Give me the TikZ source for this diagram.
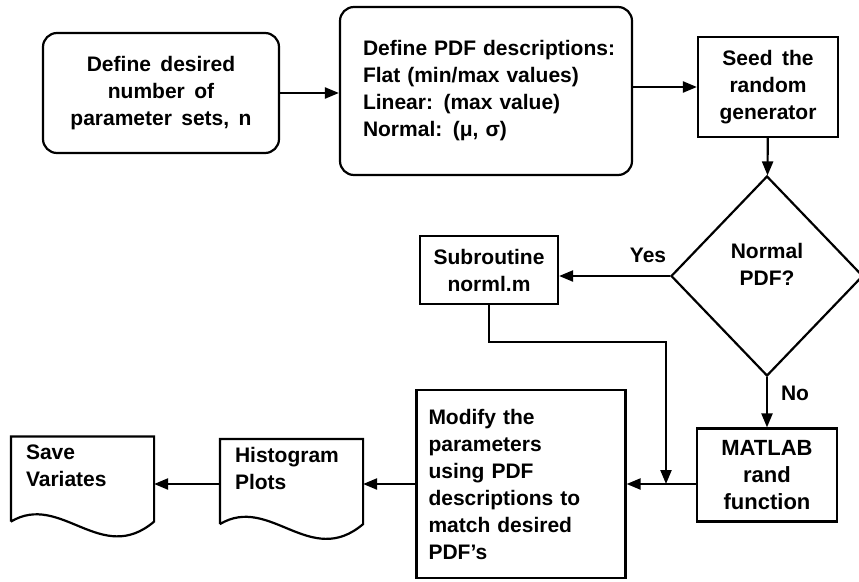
\documentclass[tikz,border=0pt]{standalone}
\usepackage{fontspec}
\setmainfont{Liberation Sans}
\usetikzlibrary{shapes,arrows,arrows.meta}
\newcommand\wideskip{\spaceskip=0.45em\relax}

\begin{document}
\begin{tikzpicture}[x=1pt,y=-1pt,line width=2.2pt,
  font=\fontsize{21}{27}\selectfont\bfseries\wideskip,
  rbox/.style={draw,rounded corners=14pt,align=center,inner sep=0pt},
  pbox/.style={draw,align=center,inner sep=0pt},
  decision/.style={draw,diamond,inner sep=0pt,minimum width=192pt,minimum height=200pt},
  docbox/.style={inner sep=0pt,minimum width=141pt,minimum height=83pt,align=left,anchor=center},
  >={Triangle[length=14pt,width=11pt]}]
\useasboundingbox (0,0) rectangle (859,581);
%-------->nodes<--------------
\node[rbox,minimum width=236pt,minimum height=120pt] (desired) at (161,93)
  {Define desired\\number of\\parameter sets, n}; % n
\node[rbox,minimum width=292pt,minimum height=168pt,text width=292pt,align=left] (pdfdesc) at (486,91)
  {\hspace*{23pt}\mbox{Define PDF descriptions:}\\\hspace*{23pt}Flat (min/max values)\\\hspace*{23pt}Linear: (max value)\\\hspace*{23pt}Normal: (μ, σ)\\[4pt]}; % pdf
\node[pbox,minimum width=140pt,minimum height=100pt] (seed) at (768,87)
  {Seed the\\random\\generator}; % seed
\node[decision] (normal) at (767,276) {}; % test
\node (normaltxt) at (767,267) {\begin{tabular}{c}Normal\\PDF?\end{tabular}};
\node[pbox,minimum width=138pt,minimum height=68pt] (subr) at (489,270)
  {Subroutine\\norml.m}; % yes
\node[pbox,minimum width=140pt,minimum height=93pt,font=\fontsize{22}{27}\selectfont\bfseries] (matlab) at (767,475)
  {MATLAB\\rand\\function}; % no
\node[pbox,minimum width=209pt,minimum height=188pt,text width=185pt,align=left] (modify) at (521,484)
  {Modify the\\parameters\\using PDF\\descriptions to\\match desired\\PDF's};
\node[docbox] (hist) at (291.5,481.5) {}; % plots
\node[docbox] (save) at (82.5,479) {}; % save
%------------->document shapes<------------------
\foreach \n in {hist,save}{
  \draw (\n.south west) -- (\n.north west) -- (\n.north east) -- (\n.south east)
    .. controls +(-53,45) and +(50,-30) .. (\n.south west);
}
\node[anchor=north west,align=left,inner sep=0pt] (histtxt) at ([xshift=14pt,yshift=-7pt]hist.north west) {Histogram\\Plots};
\node[anchor=north west,align=left,inner sep=0pt] (savetxt) at ([xshift=14pt,yshift=-7pt]save.north west) {Save\\Variates};
%----------------> connectors <------------------
\coordinate (bend) at (666,342);
\coordinate (join) at (666,484);
\draw[->] (desired) -- (pdfdesc.west |- desired);
\draw[->] (pdfdesc.east |- seed) -- (seed);
\draw[->] (seed) -- (normal);
\draw[->] (normal.west) -- (subr.east |- normal.west);
\draw[->] (normal) -- (matlab);
\draw[->] (subr.south) |- (bend) -- (join);
\draw[->] (matlab.west |- join) -- (modify.east |- join);
\draw[->] (modify.west |- join) -- (hist.east |- join);
\draw[->] (hist.west |- join) -- (save.east |- join);
%-----------> labels <---------------
\node (yes) at (648,255) {Yes};
\node (no) at (795,393) {No};
\end{tikzpicture}
\end{document}
